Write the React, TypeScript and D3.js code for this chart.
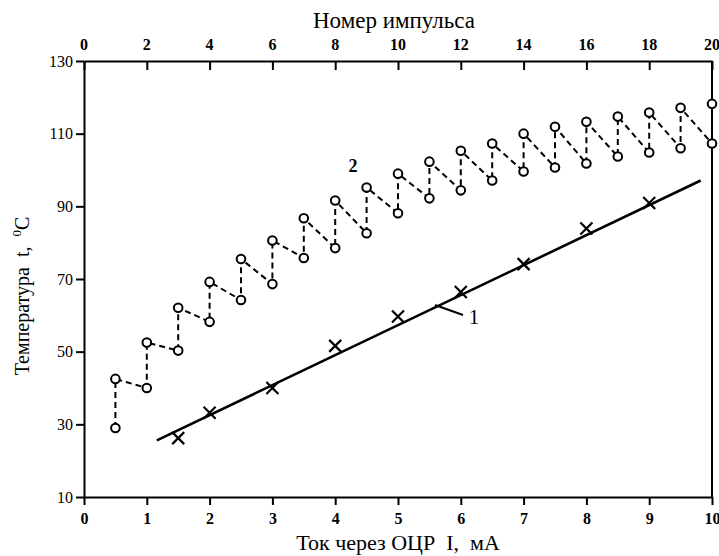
import React, { useEffect, useRef } from "react";
import * as d3 from "d3";

// Series 2 (circles): current I, mA; low & high temperature before/after each pulse
const currents2 = [0.5, 1, 1.5, 2, 2.5, 3, 3.5, 4, 4.5, 5, 5.5, 6, 6.5, 7, 7.5, 8, 8.5, 9, 9.5, 10];
const lowTemps2 = [29, 40, 50.3, 58.2, 64.2, 68.6, 75.8, 78.5, 82.6, 88.1, 92.2, 94.4, 97.1, 99.6, 100.7, 101.8, 103.7, 104.8, 106, 107.3];
const highTemps2 = [42.5, 52.5, 62.1, 69.2, 75.5, 80.6, 86.7, 91.6, 95.2, 99, 102.3, 105.3, 107.3, 110, 111.9, 113.3, 114.7, 115.8, 117.1, 118.2];

// Series 1 (crosses)
const currents1 = [1.5, 2, 3, 4, 5, 6, 7, 8, 9];
const temps1 = [26.2, 33.2, 40, 51.6, 59.7, 66.4, 74.1, 83.9, 90.9];
// fitted straight line for series 1
const fitX = [1.16, 9.82];
const fitY = [25.6, 97.1];

const bottomTicks = [0, 1, 2, 3, 4, 5, 6, 7, 8, 9, 10];
const topTicks = [0, 2, 4, 6, 8, 10, 12, 14, 16, 18, 20];
const yTicks = [10, 30, 50, 70, 90, 110, 130];

const W = 719;
const H = 556;
const SERIF = '"Liberation Serif", "DejaVu Serif", "Times New Roman", Times, serif';

export default function App() {
  const ref = useRef<SVGSVGElement>(null);
  useEffect(() => {
    const svg = d3.select(ref.current);
    svg.selectAll("*").remove();
    const L = 84, R = 712, T = 61, B = 497;
    const x = d3.scaleLinear().domain([0, 10]).range([L, R]);
    const xTop = d3.scaleLinear().domain([0, 20]).range([L, R]);
    const y = d3.scaleLinear().domain([10, 130]).range([B, T]);

    // bottom axis
    const gB = svg.append("g").attr("transform", `translate(0,${B})`);
    gB.call(
      d3.axisBottom(x).tickValues(d3.range(0, 10.01, 0.5)).tickSize(5).tickSizeOuter(0).tickFormat(() => "")
    );
    gB.call(
      d3.axisBottom(x).tickValues(bottomTicks).tickSize(8).tickSizeOuter(0).tickPadding(8).tickFormat(d3.format("d"))
    );
    // top axis
    const gT = svg.append("g").attr("transform", `translate(0,${T})`);
    gT.call(
      d3.axisBottom(xTop).tickValues(d3.range(0, 20.01, 1)).tickSize(6).tickSizeOuter(0).tickFormat(() => "")
    );
    gT.call(
      d3.axisBottom(xTop).tickValues(topTicks).tickSize(9).tickSizeOuter(0).tickFormat(() => "")
    );
    svg
      .append("g")
      .selectAll("text")
      .data(topTicks)
      .join("text")
      .attr("x", (d) => xTop(d))
      .attr("y", T - 11)
      .attr("text-anchor", "middle")
      .style("font-family", SERIF)
      .attr("font-weight", "bold")
      .attr("font-size", 16)
      .attr("fill", "#000")
      .text((d) => String(d));
    // left axis
    const gL = svg.append("g").attr("transform", `translate(${L},0)`);
    gL.call(d3.axisLeft(y).tickValues(d3.range(10, 130.1, 10)).tickSize(5).tickSizeOuter(0).tickFormat(() => ""));
    gL.call(d3.axisLeft(y).tickValues(yTicks).tickSize(8).tickSizeOuter(0).tickPadding(3).tickFormat(d3.format("d")));
    // right axis line
    svg.append("line").attr("x1", R).attr("x2", R).attr("y1", T).attr("y2", B).attr("stroke", "#000").attr("stroke-width", 2);

    svg.selectAll(".domain").attr("stroke-width", 2);
    svg.selectAll(".tick line").attr("stroke-width", 2);
    gB.selectAll(".tick text").style("font-family", SERIF).attr("font-weight", "bold").attr("font-size", 16).attr("fill", "#000");
    gL.selectAll(".tick text").style("font-family", SERIF).attr("font-size", 16).attr("fill", "#000");

    // series 2 sawtooth path
    const pts: [number, number][] = [];
    currents2.forEach((c, i) => {
      pts.push([x(c), y(lowTemps2[i])]);
      pts.push([x(c), y(highTemps2[i])]);
    });
    svg
      .append("path")
      .attr("d", d3.line()(pts))
      .attr("fill", "none")
      .attr("stroke", "#000")
      .attr("stroke-width", 2)
      .attr("stroke-dasharray", "6,4");
    svg
      .append("g")
      .selectAll("circle")
      .data(pts)
      .join("circle")
      .attr("cx", (d) => d[0])
      .attr("cy", (d) => d[1])
      .attr("r", 4.3)
      .attr("fill", "#fff")
      .attr("stroke", "#000")
      .attr("stroke-width", 2);

    // series 1 fit line
    svg
      .append("line")
      .attr("x1", x(fitX[0]))
      .attr("y1", y(fitY[0]))
      .attr("x2", x(fitX[1]))
      .attr("y2", y(fitY[1]))
      .attr("stroke", "#000")
      .attr("stroke-width", 2.6);
    const s = 6;
    const cg = svg.append("g");
    currents1.forEach((c, i) => {
      const cx = x(c), cy = y(temps1[i]);
      cg.append("path")
        .attr("d", `M${cx - s},${cy - s}L${cx + s},${cy + s}M${cx - s},${cy + s}L${cx + s},${cy - s}`)
        .attr("stroke", "#000")
        .attr("stroke-width", 2.2);
    });

    // curve labels
    svg.append("text").attr("x", 353).attr("y", 172).attr("text-anchor", "middle")
      .style("font-family", SERIF).attr("font-weight", "bold").attr("font-size", 18).attr("fill", "#000").text("2");
    svg.append("line").attr("x1", 435).attr("y1", 305).attr("x2", 463).attr("y2", 315)
      .attr("stroke", "#000").attr("stroke-width", 2);
    svg.append("text").attr("x", 474).attr("y", 324).attr("text-anchor", "middle")
      .style("font-family", SERIF).attr("font-size", 21).attr("fill", "#000").text("1");

    // axis titles
    svg.append("text").attr("x", 398).attr("y", 550).attr("text-anchor", "middle")
      .style("font-family", SERIF).attr("font-size", 22).attr("fill", "#000").style("white-space", "pre")
      .text("Ток через ОЦР  I,  мА");
    svg.append("text").attr("x", 394).attr("y", 28).attr("text-anchor", "middle")
      .style("font-family", SERIF).attr("font-size", 23).attr("fill", "#000").text("Номер импульса");
    const yl = svg.append("text")
      .attr("transform", `translate(29,296) rotate(-90)`)
      .attr("text-anchor", "middle")
      .style("font-family", SERIF)
      .attr("font-size", 20)
      .attr("fill", "#000")
      .style("white-space", "pre");
    yl.append("tspan").text("Температура  t,  ");
    yl.append("tspan").attr("font-size", 13).attr("dy", -8).text("0");
    yl.append("tspan").attr("dy", 8).text("C");
  }, []);

  return (
    <svg
      ref={ref}
      width={W}
      height={H}
      style={{ position: "absolute", left: 0, top: 0, background: "#fff" }}
    />
  );
}
